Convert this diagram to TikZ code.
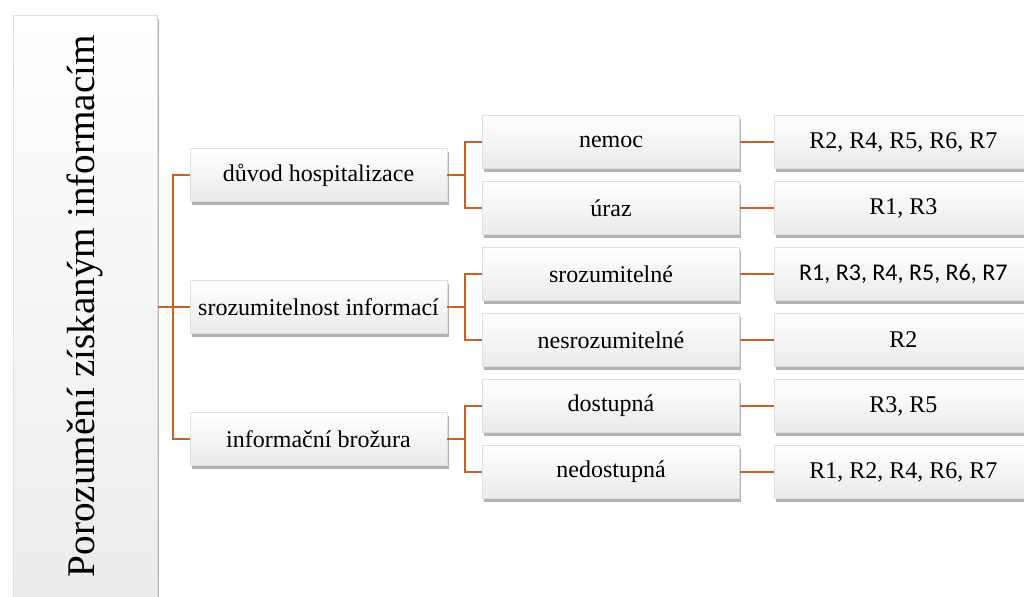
\documentclass[tikz,border=0pt]{standalone}
\usepackage{fontspec}
\setmainfont{Liberation Serif}
\newfontfamily\calibri{Carlito}
\usetikzlibrary{shadows}
\definecolor{branch}{RGB}{198,98,36}
\tikzset{
  box/.style={draw=gray!25, line width=0.3pt, top color=white, bottom color=gray!16,
    drop shadow={shadow xshift=0.8pt, shadow yshift=-1.6pt, opacity=0.5, fill=gray!80!black},
    minimum height=26.5pt, inner sep=0pt, font=\fontsize{12}{14}\selectfont},
  mid/.style={box, minimum width=128.5pt},
  leaf/.style={box, minimum width=129pt, anchor=west},
  link/.style={draw=branch, line width=1pt},
}
\begin{document}
\begin{tikzpicture}[x=0.5pt, y=-0.5pt]
    \clip (0,0) rectangle (1024,596);
    \fill[white] (0,0) rectangle (1024,596);
    % title
    \node[box, minimum width=72pt, minimum height=310pt, anchor=north west] (title) at (13,15) {};
    \node[rotate=90, font=\fontsize{19.6}{24}\selectfont] (titletext) at (title.center |- 0,306) {Porozumění získaným informacím};
    % first level
    \node[mid] (duvod) at (318.5,175) {důvod hospitalizace};
    \node[mid] (srozum) at (318.5,307) {srozumitelnost informací};
    \node[mid] (brozura) at (318.5,439) {informační brožura};
    % second level
    \node[mid] (nemoc) at (611,142) {nemoc};
    \node[mid] (uraz) at (611,208) {úraz};
    \node[mid] (srozok) at (611,274) {srozumitelné};
    \node[mid] (srozne) at (611,340) {nesrozumitelné};
    \node[mid] (dost) at (611,406) {dostupná};
    \node[mid] (nedost) at (611,472) {nedostupná};
    % answers
    \node[leaf] (r-nemoc) at (774,142) {R2, R4, R5, R6, R7};
    \node[leaf] (r-uraz) at (774,208) {R1, R3};
    \node[leaf] (r-srozok) at (774,274) {\calibri R1, R3, R4, R5, R6, R7};
    \node[leaf] (r-srozne) at (774,340) {R2};
    \node[leaf] (r-dost) at (774,406) {R3, R5};
    \node[leaf] (r-nedost) at (774,472) {R1, R2, R4, R6, R7};
    % connectors
    \coordinate (fork0) at (173,307);
    \draw[link] (title.east |- fork0) -- (fork0);
    \draw[link] (duvod.west) -| (fork0) |- (brozura.west);
    \draw[link] (fork0) -- (srozum.west);
    \foreach \a/\b/\c in {duvod/nemoc/uraz, srozum/srozok/srozne, brozura/dost/nedost}{
      \coordinate (fork-\a) at ([xshift=9pt]\a.east);
      \draw[link] (\a.east) -- (fork-\a);
      \draw[link] (\b.west) -| (fork-\a) |- (\c.west);
    }
    \foreach \n in {nemoc, uraz, srozok, srozne, dost, nedost}
      \draw[link] (\n.east) -- (r-\n.west);
\end{tikzpicture}
\end{document}
